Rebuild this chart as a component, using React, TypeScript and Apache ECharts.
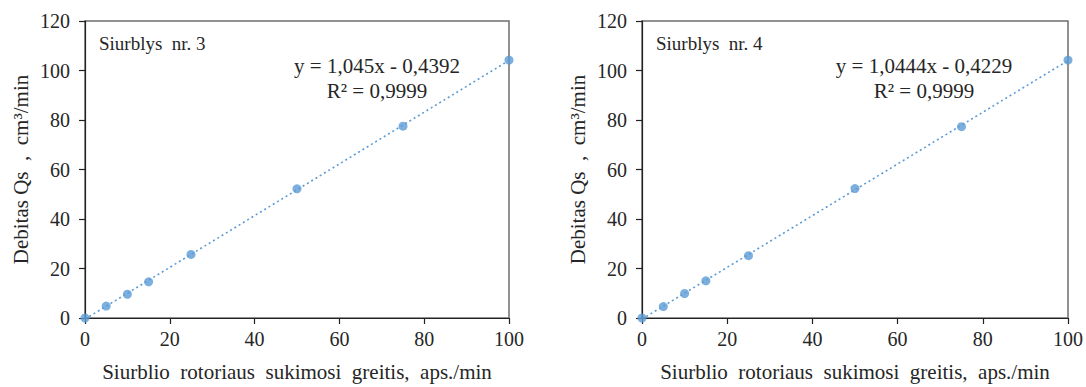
import React, { useEffect, useRef } from "react";
import * as echarts from "echarts";

const speeds = [0, 5, 10, 15, 25, 50, 75, 100];
const flow3 = [0, 4.8, 9.6, 14.6, 25.7, 52.2, 77.5, 104.2];
const flow4 = [0, 4.6, 9.9, 15.0, 25.2, 52.3, 77.3, 104.2];
const trendX = [0, 100];
const trend3 = [-0.44, 104.06];
const trend4 = [-0.42, 104.02];
const titles = ["Siurblys  nr. 3", "Siurblys  nr. 4"];
const equations = ["y = 1,045x - 0,4392", "y = 1,0444x - 0,4229"];
const rSquared = ["R² = 0,9999", "R² = 0,9999"];
const xName = "Siurblio  rotoriaus  sukimosi  greitis,  aps./min";
const yName = "Debitas Qs  ,  cm³/min";

const FONT = "Liberation Serif";
const BLUE = "#5b9bd5";
const INK = "#262626";

export default function App() {
  const ref = useRef<HTMLDivElement>(null);
  useEffect(() => {
    if (!ref.current) return;
    const chart = echarts.init(ref.current, undefined, { renderer: "svg" });
    const grids = [
      { left: 85, top: 21, width: 424, height: 301, eq: 377 },
      { left: 642, top: 21, width: 427, height: 301, eq: 924 },
    ];
    const mkX = (i: number) => ({
      type: "value",
      gridIndex: i,
      min: 0,
      max: 100,
      interval: 20,
      name: xName,
      nameLocation: "middle",
      nameGap: 43,
      nameTextStyle: { fontFamily: FONT, fontSize: 21, color: INK },
      axisLine: { show: true, lineStyle: { color: "#222", width: 1.2 } },
      axisTick: { show: true, inside: false, length: 6, lineStyle: { color: "#222", width: 1.2 } },
      axisLabel: { fontFamily: FONT, fontSize: 20, color: INK, margin: 11 },
      splitLine: { show: false },
    });
    const mkY = (i: number) => ({
      type: "value",
      gridIndex: i,
      min: 0,
      max: 120,
      interval: 20,
      name: yName,
      nameLocation: "middle",
      nameGap: 54,
      nameTextStyle: { fontFamily: FONT, fontSize: 21, color: INK },
      axisLine: { show: true, lineStyle: { color: "#222", width: 1.2 } },
      axisTick: { show: true, inside: false, length: 6, lineStyle: { color: "#222", width: 1.2 } },
      axisLabel: { fontFamily: FONT, fontSize: 20, color: INK, margin: 15 },
      splitLine: { show: false },
    });
    const pts = (ys: number[]) => speeds.map((x, k) => [x, ys[k]]);
    const tr = (ys: number[]) => trendX.map((x, k) => [x, ys[k]]);
    const textEls = (i: number, g: any) => [
      {
        type: "text",
        x: g.left + 14,
        y: 34,
        style: { text: titles[i], fontFamily: FONT, fontSize: 19, fill: INK },
      },
      {
        type: "text",
        x: g.eq,
        y: 55,
        style: { text: equations[i], fontFamily: FONT, fontSize: 21, fill: INK, align: "center" },
      },
      {
        type: "text",
        x: g.eq,
        y: 80,
        style: { text: rSquared[i], fontFamily: FONT, fontSize: 21, fill: INK, align: "center" },
      },
    ];
    chart.setOption({
      animation: false,
      backgroundColor: "#fff",
      grid: grids.map((g) => ({
        left: g.left,
        top: g.top,
        width: g.width,
        height: g.height,
        show: true,
        borderColor: "#6e6e6e",
        borderWidth: 1.5,
        backgroundColor: "transparent",
      })),
      xAxis: [mkX(0), mkX(1)],
      yAxis: [mkY(0), mkY(1)],
      series: [
        {
          type: "line",
          xAxisIndex: 0,
          yAxisIndex: 0,
          data: tr(trend3),
          showSymbol: false,
          lineStyle: { color: BLUE, width: 1.6, type: [2, 3] },
          z: 1,
        },
        {
          type: "scatter",
          xAxisIndex: 0,
          yAxisIndex: 0,
          data: pts(flow3),
          symbolSize: 9,
          itemStyle: { color: BLUE },
          z: 2,
        },
        {
          type: "line",
          xAxisIndex: 1,
          yAxisIndex: 1,
          data: tr(trend4),
          showSymbol: false,
          lineStyle: { color: BLUE, width: 1.6, type: [2, 3] },
          z: 1,
        },
        {
          type: "scatter",
          xAxisIndex: 1,
          yAxisIndex: 1,
          data: pts(flow4),
          symbolSize: 9,
          itemStyle: { color: BLUE },
          z: 2,
        },
      ],
      graphic: [...textEls(0, grids[0]), ...textEls(1, grids[1])],
    });
    return () => chart.dispose();
  }, []);
  return (
    <div
      ref={ref}
      style={{ position: "fixed", left: 0, top: 0, width: 1086, height: 387, background: "#fff" }}
    />
  );
}
